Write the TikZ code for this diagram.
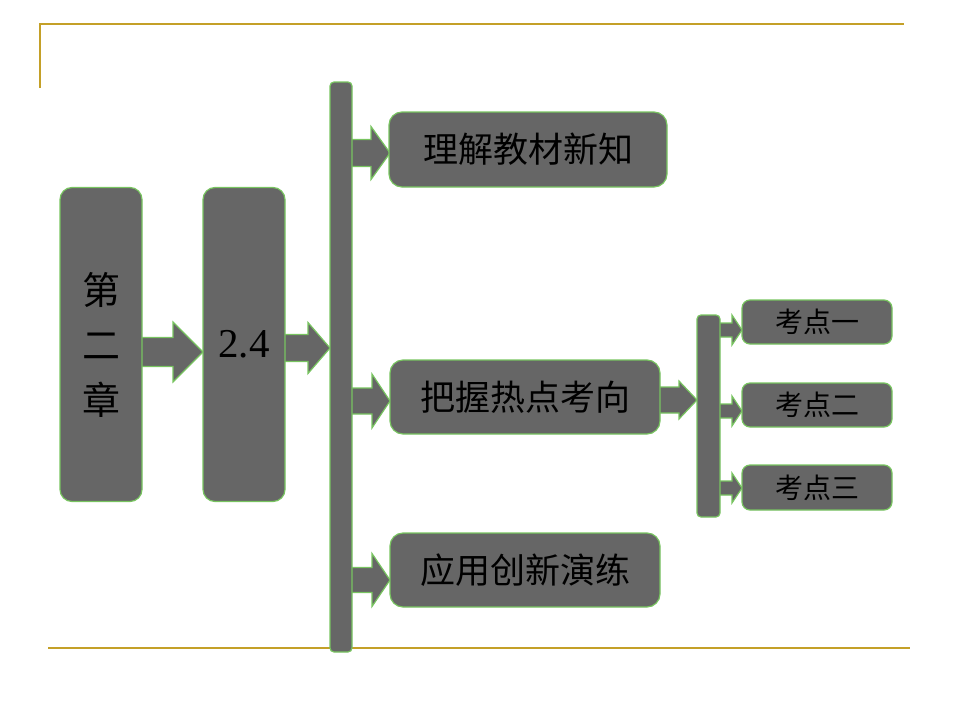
\documentclass[tikz,border=0pt]{standalone}
\usepackage{fontspec}
\setmainfont{Liberation Serif}
\newfontfamily\cjk{Noto Sans CJK SC}
\definecolor{boxgray}{RGB}{102,102,102}
\definecolor{boxgreen}{RGB}{120,196,96}
\definecolor{goldline}{RGB}{196,160,40}
\newcommand{\blockarr}[7]{% name, x1, x2(tip), y, shaft half, head half, head length
  \filldraw[arr] (#2,#4-#5) -- (#3-#7,#4-#5) -- (#3-#7,#4-#6) -- (#3,#4)
    -- (#3-#7,#4+#6) -- (#3-#7,#4+#5) -- (#2,#4+#5) -- cycle;
  \coordinate (#1) at (#3,#4);}
\begin{document}
\begin{tikzpicture}[x=1pt,y=-1pt,
  arr/.style={fill=boxgray,draw=boxgreen,line width=1.2pt,line join=miter},
  gbox/.style={fill=boxgray,draw=boxgreen,line width=1.2pt,inner sep=0pt},
  bigbox/.style={gbox,rounded corners=12pt,minimum width=82pt,minimum height=314pt},
  textbox/.style={gbox,rounded corners=13pt,minimum height=74pt,
    font=\cjk\fontsize{35}{38}\selectfont},
  barbox/.style={gbox,rounded corners=4pt},
  smallbox/.style={gbox,rounded corners=8pt,minimum width=150pt,minimum height=44pt,
    font=\cjk\fontsize{28}{30}\selectfont},
  gold/.style={draw=goldline,line width=2.5pt}]
\useasboundingbox (0,0) rectangle (960,720);
% frame lines
\coordinate (tl) at (40,88);
\coordinate (tc) at (40,24);
\coordinate (tr) at (904,24);
\coordinate (bl) at (48,648);
\coordinate (br) at (910,648);
\draw[gold] (tl) -- (tc) -- (tr);
\draw[gold] (bl) -- (br);
% arrows (drawn first, boxes cover their tails)
\blockarr{a1}{138}{203}{352}{14.5}{30}{30}
\blockarr{a2}{282}{330}{348}{13.5}{25.5}{22}
\blockarr{a3}{349}{390}{153}{13.5}{26.5}{19}
\blockarr{a4}{349}{390}{401}{13}{27}{18}
\blockarr{a5}{349}{390}{580}{12.5}{26.5}{18}
\blockarr{a6}{656}{697}{400}{13}{19}{18}
\blockarr{a7}{717}{742}{330}{7}{15}{10}
\blockarr{a8}{717}{742}{411}{7}{15}{10}
\blockarr{a9}{717}{742}{488}{7}{15}{10}
% boxes
\node[bigbox,align=center,font=\cjk\fontsize{38}{55}\selectfont] (ch) at (101,344.5) {第\\二\\章};
\node[bigbox,font=\fontsize{41}{44}\selectfont] (s24) at (244,344.5) {2.4};
\node[barbox,minimum width=22pt,minimum height=570pt] (bar) at (341,367) {};
\node[textbox,minimum width=278pt,minimum height=75pt] (t1) at (528,149.5) {理解教材新知};
\node[textbox,minimum width=270pt] (t2) at (525,397) {把握热点考向};
\node[textbox,minimum width=270pt] (t3) at (525,570) {应用创新演练};
\node[barbox,minimum width=23pt,minimum height=202pt] (sbar) at (708.5,416) {};
\node[smallbox] (k1) at (817,322) {考点一};
\node[smallbox] (k2) at (817,405) {考点二};
\node[smallbox,minimum height=45pt] (k3) at (817,487.5) {考点三};
\end{tikzpicture}
\end{document}
